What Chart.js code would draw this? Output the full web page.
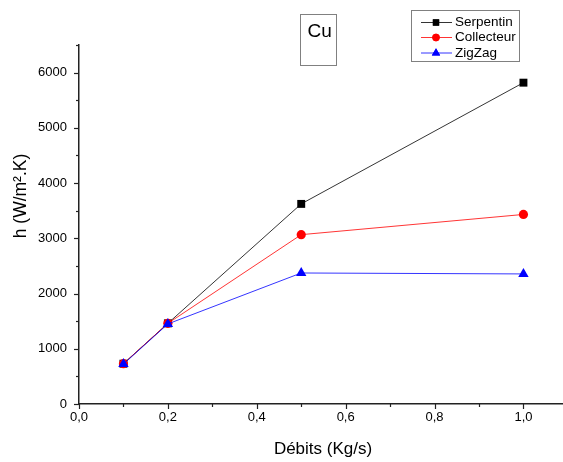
<!DOCTYPE html>
<html>
<head>
<meta charset="utf-8">
<script src="https://cdn.jsdelivr.net/npm/chart.js@4/dist/chart.umd.min.js"></script>
<style>
  html, body { margin: 0; padding: 0; background: #fff; }
  #wrap { width: 563px; height: 462px; }
</style>
</head>
<body>
<div id="wrap"><canvas id="c" width="563" height="462"></canvas></div>
<script>
// Flow rate (kg/s) and heat transfer coefficient per exchanger geometry
const debits = [0.1, 0.2, 0.5, 1.0];
const serpentin = [730, 1460, 3623, 5818];
const collecteur = [730, 1460, 3066, 3432];
const zigzag = [722, 1450, 2372, 2355];

const seriesNames = ['Serpentin', 'Collecteur', 'ZigZag'];
const xTickValues = [0, 0.1, 0.2, 0.3, 0.4, 0.5, 0.6, 0.7, 0.8, 0.9, 1.0];
const xTickLabels = ['0,0', '', '0,2', '', '0,4', '', '0,6', '', '0,8', '', '1,0'];
const yTickValues = [0, 500, 1000, 1500, 2000, 2500, 3000, 3500, 4000, 4500, 5000, 5500, 6000, 6500];
const yTickLabels = ['0', '', '1000', '', '2000', '', '3000', '', '4000', '', '5000', '', '6000', ''];

const FONT = '"Liberation Sans", Arial, sans-serif';

function toPoints(ys) {
  return debits.map((x, i) => ({ x: x, y: ys[i] }));
}

// Outward major/minor tick marks, axis titles, legend and "Cu" label box
const decorations = {
  id: 'decorations',
  afterDraw(chart) {
    const ctx = chart.ctx;
    const xs = chart.scales.x, ys = chart.scales.y;
    const ca = chart.chartArea;
    ctx.save();
    ctx.strokeStyle = '#222';
    ctx.lineWidth = 1.2;
    xTickValues.forEach((v, i) => {
      const px = Math.round(xs.getPixelForValue(v)) + 0.5;
      const len = xTickLabels[i] ? 5 : 3;
      ctx.beginPath();
      ctx.moveTo(px, ca.bottom);
      ctx.lineTo(px, ca.bottom + len);
      ctx.stroke();
    });
    yTickValues.forEach((v, i) => {
      const py = Math.round(ys.getPixelForValue(v)) + 0.5;
      const len = yTickLabels[i] ? 5 : 3;
      ctx.beginPath();
      ctx.moveTo(ca.left, py);
      ctx.lineTo(ca.left - len, py);
      ctx.stroke();
    });

    // axis titles
    ctx.fillStyle = '#000';
    ctx.textAlign = 'center';
    ctx.textBaseline = 'middle';
    ctx.font = '17px ' + FONT;
    ctx.fillText('Débits (Kg/s)', 323, 449);
    ctx.save();
    ctx.translate(21, 196);
    ctx.rotate(-Math.PI / 2);
    ctx.font = '17.5px ' + FONT;
    ctx.fillText('h (W/m\u00B2.K)', 0, 0);
    ctx.restore();

    // "Cu" label box
    ctx.strokeStyle = '#808080';
    ctx.lineWidth = 1;
    ctx.strokeRect(300.5, 14.5, 36, 51);
    ctx.font = '19px ' + FONT;
    ctx.textAlign = 'left';
    ctx.textBaseline = 'alphabetic';
    ctx.fillText('Cu', 307.5, 37);

    // legend
    ctx.strokeStyle = '#808080';
    ctx.strokeRect(411.5, 10.5, 108, 51);
    const rowY = [22, 37, 52.5];
    ctx.font = '13.5px ' + FONT;
    ctx.textBaseline = 'middle';
    chart.data.datasets.forEach((ds, i) => {
      const y = rowY[i];
      ctx.strokeStyle = ds.borderColor;
      ctx.lineWidth = ds.borderWidth;
      ctx.beginPath();
      ctx.moveTo(421, y + 0.5);
      ctx.lineTo(452, y + 0.5);
      ctx.stroke();
      ctx.fillStyle = ds.pointBackgroundColor;
      Chart.helpers.drawPoint(ctx, {
        pointStyle: ds.pointStyle,
        radius: ds.pointRadius * 0.8,
        rotation: 0,
        borderWidth: 0
      }, 436, y + 0.5);
      ctx.fill();
      ctx.fillStyle = '#000';
      ctx.fillText(ds.label, 455, y + 0.5);
    });
    ctx.restore();
  }
};

const ctx = document.getElementById('c').getContext('2d');
new Chart(ctx, {
  type: 'line',
  data: {
    datasets: [
      {
        label: seriesNames[0], data: toPoints(serpentin), order: 2,
        borderColor: '#000', backgroundColor: '#000', pointBackgroundColor: '#000',
        pointBorderColor: '#000', pointStyle: 'rect', pointRadius: 5.6,
        borderWidth: 0.8, pointBorderWidth: 0
      },
      {
        label: seriesNames[1], data: toPoints(collecteur), order: 1,
        borderColor: '#ff0000', backgroundColor: '#ff0000', pointBackgroundColor: '#ff0000',
        pointBorderColor: '#ff0000', pointStyle: 'circle', pointRadius: 4.6,
        borderWidth: 0.8, pointBorderWidth: 0
      },
      {
        label: seriesNames[2], data: toPoints(zigzag), order: 0,
        borderColor: '#0000ff', backgroundColor: '#0000ff', pointBackgroundColor: '#0000ff',
        pointBorderColor: '#0000ff', pointStyle: 'triangle', pointRadius: 6,
        borderWidth: 0.8, pointBorderWidth: 0
      }
    ]
  },
  options: {
    responsive: false,
    animation: false,
    events: [],
    layout: { autoPadding: false, padding: { top: 45, right: 0, bottom: 0, left: 0 } },
    plugins: { legend: { display: false }, tooltip: { enabled: false } },
    elements: { line: { tension: 0 } },
    scales: {
      x: {
        type: 'linear',
        min: 0,
        max: 1.089,
        afterBuildTicks(scale) { scale.ticks = xTickValues.map(v => ({ value: v })); },
        afterFit(scale) {
          scale.height = 58;
          scale.paddingLeft = 0;
          scale.paddingRight = 0;
        },
        grid: { display: false, drawTicks: false },
        border: { display: true, color: '#222', width: 1.5 },
        ticks: {
          autoSkip: false,
          maxRotation: 0,
          padding: 6,
          color: '#000',
          font: { family: FONT, size: 13 },
          callback(value, index) { return xTickLabels[index]; }
        }
      },
      y: {
        type: 'linear',
        min: 0,
        max: 6500,
        afterBuildTicks(scale) { scale.ticks = yTickValues.map(v => ({ value: v })); },
        afterFit(scale) {
          scale.width = 79;
          scale.paddingTop = 0;
          scale.paddingBottom = 0;
        },
        grid: { display: false, drawTicks: false },
        border: { display: true, color: '#222', width: 1.5 },
        ticks: {
          autoSkip: false,
          padding: 12,
          color: '#000',
          font: { family: FONT, size: 13 },
          callback(value, index) { return yTickLabels[index]; }
        }
      }
    }
  },
  plugins: [decorations]
});
</script>
</body>
</html>
